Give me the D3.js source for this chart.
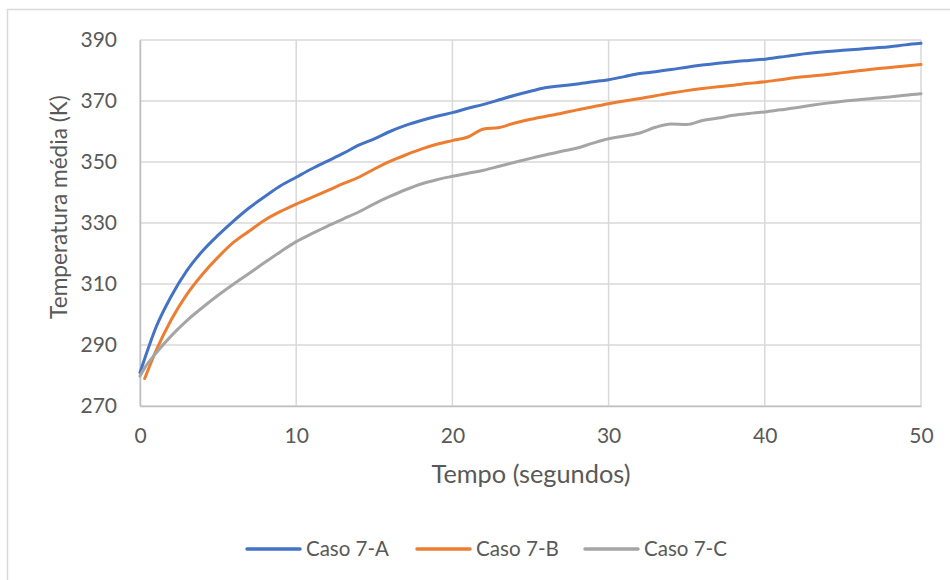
<!DOCTYPE html>
<html>
<head>
<meta charset="utf-8">
<script src="https://cdn.jsdelivr.net/npm/d3@7"></script>
<style>
  html, body { margin: 0; padding: 0; background: #fff; }
  svg { display: block; }
  text { font-family: Lato, "Open Sans", sans-serif; fill: #595959; }
</style>
</head>
<body>
<svg id="chart" width="950" height="580"></svg>
<script>
// Tempo (s)
const tempo = [0, 0.3, 1, 2, 3, 4, 5, 6, 7, 8, 9, 10, 11, 12, 13, 14, 15, 16, 17, 18, 19,
  20, 21, 22, 23, 24, 25, 26, 27, 28, 29, 30, 31, 32, 33, 34, 35, 36, 37, 38, 39,
  40, 41, 42, 43, 44, 45, 46, 47, 48, 49, 50];

// Temperatura média (K) por caso
const caso7A = [281, 285.5, 295.5, 306, 314.4, 320.8, 326, 330.7, 335, 338.7, 342.2,
  345, 347.8, 350.3, 352.8, 355.5, 357.6, 360, 362, 363.6, 365,
  366.2, 367.6, 368.9, 370.4, 371.9, 373.2, 374.4, 375, 375.6, 376.3,
  377, 378, 379, 379.6, 380.3, 381.1, 381.8, 382.4, 382.9, 383.3,
  383.7, 384.4, 385.1, 385.7, 386.2, 386.6, 387, 387.4, 387.8, 388.4, 388.9];

const caso7B = [null, 279, 287.8, 298.3, 306.6, 313.2, 318.8, 323.7, 327.4, 331, 333.8,
  336.2, 338.4, 340.6, 342.9, 345, 347.7, 350.2, 352.3, 354.2, 355.8,
  357, 358.2, 360.8, 361.3, 362.8, 364, 365, 366, 367.1, 368.1,
  369.1, 370, 370.8, 371.7, 372.6, 373.4, 374.1, 374.7, 375.2, 375.8,
  376.3, 377, 377.7, 378.2, 378.7, 379.3, 379.9, 380.5, 381, 381.5, 382];

const caso7C = [279.8, 282.5, 287.2, 293, 298, 302.3, 306.3, 310, 313.5, 317.1, 320.6,
  323.9, 326.5, 329, 331.3, 333.6, 336.3, 338.7, 340.9, 342.8, 344.2,
  345.3, 346.3, 347.3, 348.6, 349.9, 351.2, 352.4, 353.5, 354.6, 356.2,
  357.6, 358.5, 359.5, 361.4, 362.5, 362.3, 363.6, 364.4, 365.3, 365.9,
  366.4, 367.1, 367.8, 368.6, 369.3, 369.9, 370.4, 370.9, 371.3, 371.9, 372.4];

const seriesNames = ["Caso 7-A", "Caso 7-B", "Caso 7-C"];
const seriesColors = ["#4472C4", "#ED7D31", "#A5A5A5"];
const xTicks = [0, 10, 20, 30, 40, 50];
const yTicks = [270, 290, 310, 330, 350, 370, 390];

const series = [caso7A, caso7B, caso7C].map((vals, i) => ({
  name: seriesNames[i],
  color: seriesColors[i],
  points: tempo.map((t, j) => ({ t, v: vals[j] }))
}));

const svg = d3.select("#chart");
const margin = { left: 140, right: 29, top: 40, bottom: 174 };
const W = 950, H = 580;

// Scale a text's font size so it spans the given width
function fitWidth(sel, width) {
  sel.each(function () {
    const fs = parseFloat(this.getAttribute("font-size"));
    const w = this.getComputedTextLength();
    this.setAttribute("font-size", (fs * width / w).toFixed(2));
  });
}

// Chart area frame
svg.append("rect")
  .attr("x", 7.5).attr("y", 9.5)
  .attr("width", 960).attr("height", 600)
  .attr("fill", "#fff").attr("stroke", "#d9d9d9").attr("stroke-width", 1.5);

const x = d3.scaleLinear().domain([0, 50]).range([margin.left, W - margin.right]);
const y = d3.scaleLinear().domain([270, 390]).range([H - margin.bottom, margin.top]);

// Gridlines
const grid = svg.append("g");
grid.selectAll("line.h").data(yTicks).join("line")
  .attr("x1", x(0)).attr("x2", x(50))
  .attr("y1", d => y(d)).attr("y2", d => y(d))
  .attr("stroke", "#d9d9d9").attr("stroke-width", 1.5);
grid.selectAll("line.v").data(xTicks).join("line")
  .attr("x1", d => x(d)).attr("x2", d => x(d))
  .attr("y1", y(270)).attr("y2", y(390))
  .attr("stroke", "#d9d9d9").attr("stroke-width", 1.5);

// Axes
const xAxis = svg.append("g")
  .attr("transform", `translate(0,${y(270)})`)
  .call(d3.axisBottom(x).tickValues(xTicks).tickSize(0).tickPadding(22).tickFormat(d3.format("d")));
xAxis.select(".domain").attr("stroke", "#bfbfbf").attr("stroke-width", 1.5);
xAxis.selectAll("text").attr("font-size", 21).style("font-family", "Lato, sans-serif").attr("fill", "#595959");

const yAxis = svg.append("g")
  .attr("transform", `translate(${x(0)},0)`)
  .call(d3.axisLeft(y).tickValues(yTicks).tickSize(0).tickPadding(23).tickFormat(d3.format("d")));
yAxis.select(".domain").attr("stroke", "#bfbfbf").attr("stroke-width", 1.5);
yAxis.selectAll("text").attr("font-size", 21).style("font-family", "Lato, sans-serif").attr("fill", "#595959");

// Series lines
const line = d3.line()
  .defined(d => d.v != null)
  .x(d => x(d.t)).y(d => y(d.v))
  .curve(d3.curveMonotoneX);

svg.append("g").selectAll("path").data(series).join("path")
  .attr("d", d => line(d.points))
  .attr("fill", "none")
  .attr("stroke", d => d.color)
  .attr("stroke-width", 3)
  .attr("stroke-linejoin", "round")
  .attr("stroke-linecap", "round");

// Axis titles
svg.append("text")
  .attr("x", 531).attr("y", 483)
  .attr("text-anchor", "middle").attr("font-size", 21)
  .text("Tempo (segundos)")
  .call(fitWidth, 199);

svg.append("text")
  .attr("transform", "translate(67,207) rotate(-90)")
  .attr("text-anchor", "middle").attr("font-size", 21)
  .text("Temperatura média (K)")
  .call(fitWidth, 224);

// Legend
const legendX = [247, 417, 585];
const legend = svg.append("g").selectAll("g").data(series).join("g")
  .attr("transform", (d, i) => `translate(${legendX[i]},549)`);
legend.append("line")
  .attr("x1", 0).attr("x2", 53).attr("y1", 0).attr("y2", 0)
  .attr("stroke", d => d.color).attr("stroke-width", 3.5).attr("stroke-linecap", "round");
legend.append("text")
  .attr("x", 59).attr("y", 0).attr("dy", "0.35em")
  .attr("font-size", 19)
  .text(d => d.name)
  .call(fitWidth, 83);
</script>
</body>
</html>
